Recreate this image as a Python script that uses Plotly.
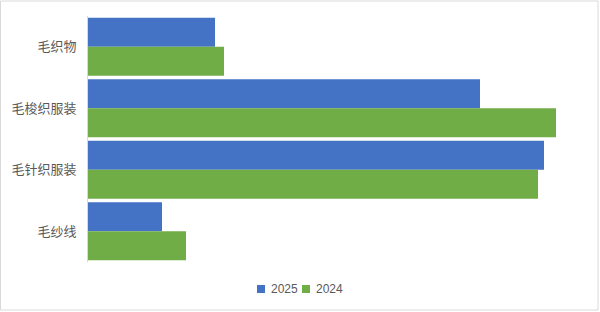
import plotly.graph_objects as go

categories = ["毛织物", "毛梭织服装", "毛针织服装", "毛纱线"]
series_names = ["2025", "2024"]
values_2025 = [12.7, 39.2, 45.6, 7.4]
values_2024 = [13.6, 46.8, 45.0, 9.8]
colors = ["#4472C4", "#70AD47"]

W, H = 600, 312
L, R, T, B = 88, 17, 16, 50
pw, ph = W - L - R, H - T - B

fig = go.Figure()
for name, vals, col in zip(series_names, [values_2025, values_2024], colors):
    fig.add_trace(go.Bar(y=categories, x=vals, name=name, orientation="h",
                         marker=dict(color=col, line=dict(width=0)), showlegend=False))

def px_x(p):
    return (p - L) / pw

def px_y(p):
    return (H - B - p) / ph

shapes = [dict(type="rect", xref="paper", yref="paper",
               x0=px_x(0.5), x1=px_x(598), y0=px_y(310), y1=px_y(1),
               line=dict(color="#d9d9d9", width=1), fillcolor="rgba(0,0,0,0)", layer="below")]
annotations = []
legend_x = [257, 302]
for name, col, lx in zip(series_names, colors, legend_x):
    shapes.append(dict(type="rect", xref="paper", yref="paper",
                       x0=px_x(lx), x1=px_x(lx + 8), y0=px_y(293), y1=px_y(285),
                       line=dict(width=0), fillcolor=col))
    annotations.append(dict(text=name, xref="paper", yref="paper", x=px_x(lx + 12), y=px_y(289),
                            xanchor="left", yanchor="middle", showarrow=False,
                            font=dict(family="Liberation Sans, Arial, sans-serif", size=12, color="#595959")))

fig.update_layout(
    width=W, height=H,
    margin=dict(l=L, r=R, t=T, b=B, autoexpand=False),
    barmode="group", bargap=0.06, bargroupgap=0,
    paper_bgcolor="white", plot_bgcolor="white",
    font=dict(family="Noto Sans CJK SC, sans-serif", size=13, color="#595959"),
    xaxis=dict(range=[0, 49.5], showticklabels=False, showgrid=False, zeroline=False,
               showline=False, ticks="", automargin=False),
    yaxis=dict(autorange="reversed", showgrid=False, showline=True, linecolor="#d9d9d9",
               linewidth=1, ticks="", ticklabelstandoff=8, automargin=False),
    showlegend=False,
    shapes=shapes,
    annotations=annotations,
)

fig.write_html("out.html")
